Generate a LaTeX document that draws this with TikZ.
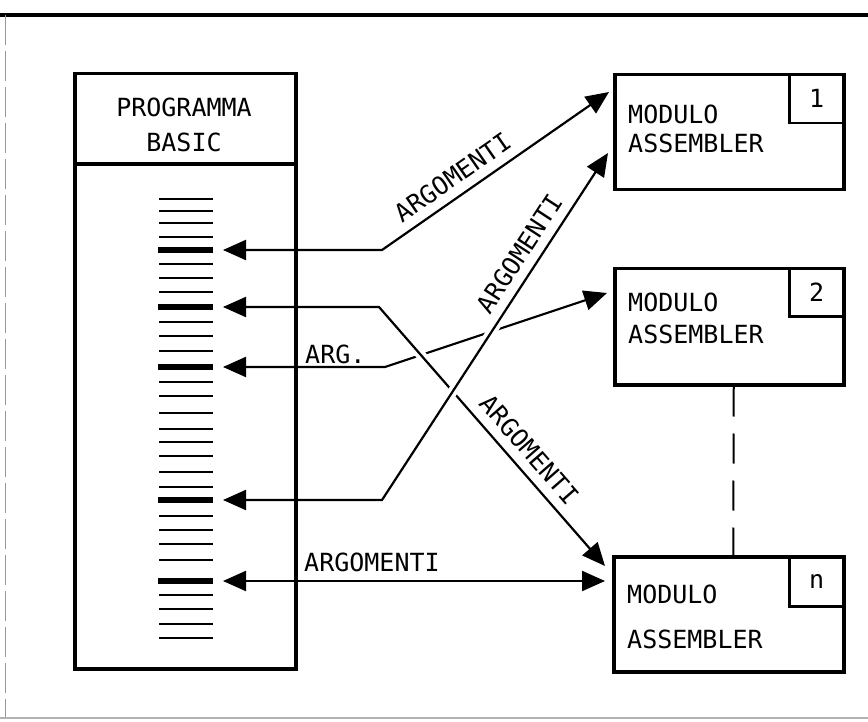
\documentclass[tikz,border=0pt]{standalone}
\usepackage{fontspec}
\setmonofont{DejaVu Sans Mono}
\usetikzlibrary{arrows.meta,calc}
\begin{document}
\begin{tikzpicture}[x=1pt,y=-1pt,
  every node/.style={font=\fontsize{25}{35}\selectfont\ttfamily},
  boxline/.style={draw,line width=3.5pt,anchor=north west,inner sep=0pt},
  numbox/.style={draw,line width=2.5pt,anchor=north east,minimum width=55pt,minimum height=49pt,inner sep=0pt},
  plain/.style={anchor=west,inner sep=0pt},
  conn/.style={line width=2.2pt,{Triangle[length=23pt,width=20pt]}-{Triangle[length=23pt,width=20pt]}},
  gap/.style={white,line width=10pt},
  lab/.style={sloped,above,inner sep=9pt}
]
\useasboundingbox (0,0) rectangle (868,722);
% frame
\draw[line width=4pt] (0,15) -- (868,15);
\draw[gray!80,line width=0.8pt,dash pattern=on 30pt off 6pt] (5,15) -- (5,718);
\draw[gray!60,line width=2.5pt] (0,718) -- (868,718);

% text lines in the BASIC program
\foreach \y in {199,211,223,237,264,278,292,322,336,351,382,396,413,429,442,456,472,487,516,530,544,560,595,609,624,638}
  \draw[line width=2.8pt] (159,\y) -- (213,\y);
\foreach \y in {250,307,367,500,581}
  \draw[line width=6pt] (158,\y) -- (213,\y);

% BASIC box
\node[boxline,minimum width=221pt,minimum height=595pt] (basic) at (73,72) {};
\coordinate (hd) at (0,164);
\draw[line width=3.5pt] (basic.west |- hd) -- (basic.east |- hd);
\node[align=center] (title) at (184,125) {PROGRAMMA\\BASIC};

% modules
\node[boxline,minimum width=229pt,minimum height=115pt] (m1) at (613,73) {};
\node[numbox] (n1) at (m1.north east) {1};
\node[plain] (m1a) at (628,114) {MODULO};
\node[plain] (m1b) at (628,143) {ASSEMBLER};

\node[boxline,minimum width=229pt,minimum height=116pt] (m2) at (613,267) {};
\node[numbox,minimum height=48pt] (n2) at (m2.north east) {2};
\node[plain] (m2a) at (628,302) {MODULO};
\node[plain] (m2b) at (628,334) {ASSEMBLER};

\node[boxline,minimum width=230pt,minimum height=115pt] (mn) at (612,555) {};
\node[numbox,minimum height=50pt] (nn) at (mn.north east) {n};
\node[plain] (mna) at (627,594) {MODULO};
\node[plain] (mnb) at (627,639) {ASSEMBLER};

\draw[line width=2pt,dash pattern=on 30pt off 17pt] ([xshift=4.5pt]m2.south) -- ([xshift=4.5pt]mn.north);

% connector end points
\coordinate (a1) at (223,250); \coordinate (c1) at (382,250); \coordinate (e1) at (609,92);
\coordinate (a2) at (223,307); \coordinate (c2) at (379,307); \coordinate (e2) at (605,566);
\coordinate (a3) at (223,367); \coordinate (c3) at (385,367); \coordinate (e3) at (607,293);
\coordinate (a4) at (223,500); \coordinate (c4) at (382,500); \coordinate (e4) at (608,153);
\coordinate (a5) at (223,581); \coordinate (e5) at (605,581);

% connectors
\draw[conn] (a1) -- (c1) -- (e1) node[lab,pos=0.36] (l1) {ARGOMENTI};
\draw[conn] (a3) -- (c3) -- (e3);
\draw[gap] ($(c2)!0.12!(e2)$) -- ($(c2)!0.25!(e2)$);
\draw[conn] (a2) -- (c2) -- (e2) node[lab,pos=0.6] (l2) {ARGOMENTI};
\draw[gap] ($(c4)!0.26!(e4)$) -- ($(c4)!0.53!(e4)$);
\draw[conn] (a4) -- (c4) -- (e4) node[lab,pos=0.68] (l4) {ARGOMENTI};
\draw[conn] (a5) -- (e5);

\node[plain] (l3) at (305,354) {ARG.};
\node[plain] (l5) at (304,562) {ARGOMENTI};
\end{tikzpicture}
\end{document}
